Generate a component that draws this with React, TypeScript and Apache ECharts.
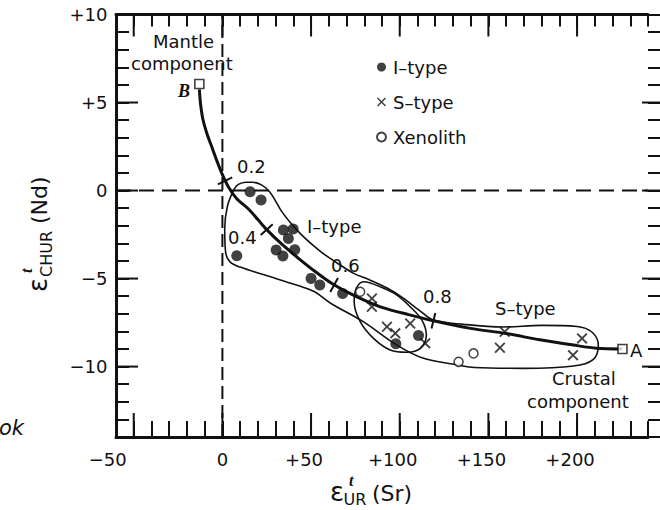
import React, { useEffect, useRef } from "react";
import * as echarts from "echarts";

const FONT = "'DejaVu Sans', sans-serif";
const SERIF = "'Liberation Serif', 'DejaVu Serif', serif";
const INK = "#111";

// axis tick labels
const xTickLabels = [-50, 0, 50, 100, 150, 200];
const yTickLabels = [-10, -5, 0, 5, 10];
const xMajorTicks = [-50, 0, 50, 100, 150, 200];
const yMajorTicks = [-10, -5, 0, 5];

// data: [eSr, eNd]
const iType: number[][] = [
  [15.6, -0.07], [21.8, -0.54], [8.1, -3.7], [34.4, -2.24], [39.9, -2.18],
  [37.2, -2.72], [30.3, -3.38], [34.1, -3.72], [40.8, -3.36], [50, -4.99],
  [54.9, -5.37], [67.8, -5.85], [110.6, -8.24], [97.8, -8.7],
];
const sType: number[][] = [
  [84.3, -6.13], [84.3, -6.6], [92.8, -7.74], [97.5, -8.11], [105.9, -7.55],
  [114.4, -8.68], [159.2, -8.02], [156.5, -8.93], [202.8, -8.4], [197.7, -9.35],
];
const xenolith: number[][] = [[77.7, -5.75], [133.2, -9.73], [141.6, -9.25]];
const mantleB: number[][] = [[-13, 6.05]];
const crustalA: number[][] = [[225.6, -9.0]];

// mixing hyperbola B -> A
const mixingCurve: number[][] = [
  [-13, 5.75], [-12.3, 4.9], [-11, 4.05], [-8.6, 3.2], [-5.5, 2.35], [-2.6, 1.55],
  [0, 0.9], [3.4, 0.2], [8, -0.45], [14.7, -1.05], [20, -1.65], [25, -2.22],
  [33.5, -3.05], [42.9, -3.85], [52.3, -4.6], [62, -5.3], [71, -5.8], [80.5, -6.25],
  [90.4, -6.65], [105, -7.05], [119, -7.4], [140, -7.83], [160, -8.12], [179, -8.48],
  [198, -8.78], [211, -8.96], [225.6, -9.0],
];
const mixFractions = ["0.2", "0.4", "0.6", "0.8"];
const mixTicks: number[][] = [[1.5, 0.55], [25, -2.22], [63, -5.36], [119, -7.4]];

// granite fields
const outerField: number[][] = [
  [13, 0.47], [17, 0.47], [22, 0.32], [26.5, -0.05], [30, -0.6], [33.5, -1.2],
  [39, -1.9], [44.8, -2.53], [51, -3.1], [57.9, -3.66], [66, -4.2], [73.8, -4.69],
  [83.4, -5.09], [92.9, -5.54], [102, -6.11], [111.6, -6.85], [119, -7.36], [136, -7.6],
  [158, -7.75], [180, -7.66], [200, -7.72], [208.5, -8.05], [212, -8.8], [209, -9.6],
  [198, -9.97], [170, -10.1], [142, -10.05], [133, -9.91], [113.4, -9.53], [98.4, -8.78],
  [79.4, -7.45], [61, -6.4], [52, -5.75], [42.7, -5.4], [24, -4.8], [10, -4.35],
  [4.3, -4.05], [1.8, -3.5], [1.3, -2.2], [2.8, -0.9], [6.5, 0.05], [9, 0.35], [13, 0.47],
];
const innerField: number[][] = [
  [89, -5.47], [98.4, -5.94], [105.9, -6.6], [112.5, -7.36], [115, -8.21], [111.6, -8.97],
  [104.1, -9.19], [94.6, -9.06], [85.2, -8.4], [77.7, -7.45], [74.3, -6.32], [75.5, -5.56],
  [79.6, -5.18], [89, -5.47],
];
const zeroVertical: number[][] = [[0, -14], [0, 10]];
const zeroHorizontal: number[][] = [[-60, 0], [240, 0]];

const CROSS = "path://M0,1.2L1.2,0L5,3.8L8.8,0L10,1.2L6.2,5L10,8.8L8.8,10L5,6.2L1.2,10L0,8.8L3.8,5Z";

function txt(text: string, left: number, baseline: number, size: number, extra: any = {}) {
  return {
    type: "text",
    x: left,
    y: baseline - 0.35 * size,
    silent: true,
    style: {
      text,
      fontSize: size,
      fontFamily: extra.fontFamily || FONT,
      fontStyle: extra.fontStyle || "normal",
      fontWeight: extra.fontWeight || "normal",
      fill: INK,
      align: extra.align || "left",
      textAlign: extra.align || "left",
      verticalAlign: "middle",
      textVerticalAlign: "middle",
      backgroundColor: extra.backgroundColor,
      padding: extra.padding,
    },
  };
}

export default function App() {
  const ref = useRef<HTMLDivElement>(null);
  useEffect(() => {
    if (!ref.current) return;
    const chart = echarts.init(ref.current, undefined, { renderer: "svg" });
    const tickStyle = { color: INK, width: 2 };
    const option: any = {
      animation: false,
      backgroundColor: "#fff",
      grid: { left: 116, right: 12, top: 14.5, bottom: 73, containLabel: false },
      legend: {
        left: 376,
        top: 58,
        orient: "vertical",
        padding: 0,
        itemGap: 17,
        itemWidth: 9,
        itemHeight: 9,
        selectedMode: false,
        data: ["I–type", "S–type", "Xenolith"],
        textStyle: { fontSize: 18, fontFamily: FONT, color: INK, padding: [0, 0, 0, 2] },
      },
      xAxis: [
        {
          type: "value", min: -60, max: 240, interval: 10, position: "bottom",
          splitLine: { show: false },
          axisLine: { show: true, onZero: false, lineStyle: { color: INK, width: 3 } },
          axisTick: { show: true, inside: true, length: 16, lineStyle: tickStyle },
          axisLabel: {
            show: true,
            customValues: xTickLabels,
            margin: 13,
            fontSize: 18,
            fontFamily: FONT,
            color: INK,
            formatter: (v: number) => (v > 0 ? `+${v}{s| }` : v < 0 ? `−${-v}{w| }` : `${v}`),
            rich: { s: { width: 14, fontSize: 18 }, w: { width: 52, fontSize: 18 } },
          },
        },
        {
          type: "value", min: -60, max: 240, interval: 10, position: "top",
          splitLine: { show: false },
          axisLine: { show: true, onZero: false, lineStyle: { color: INK, width: 3 } },
          axisTick: { show: true, inside: true, length: 12, lineStyle: tickStyle },
          axisLabel: { show: false },
        },
      ],
      yAxis: [
        {
          type: "value", min: -14, max: 10, interval: 1, position: "left",
          splitLine: { show: false },
          axisLine: { show: true, onZero: false, lineStyle: { color: INK, width: 3 } },
          axisTick: { show: true, inside: true, length: 13, lineStyle: tickStyle },
          axisLabel: {
            show: true,
            customValues: yTickLabels,
            margin: 8.5,
            fontSize: 18,
            fontFamily: FONT,
            color: INK,
            formatter: (v: number) => (v > 0 ? `+${v}` : v < 0 ? `−${-v}` : `${v}`),
          },
        },
        {
          type: "value", min: -14, max: 10, interval: 1, position: "right",
          splitLine: { show: false },
          axisLine: { show: false, onZero: false },
          axisTick: { show: true, inside: false, length: 12, lineStyle: tickStyle },
          axisLabel: { show: false },
        },
      ],
      series: [
        {
          name: "zeroV", type: "line", data: zeroVertical, symbol: "none", silent: true, z: 1,
          lineStyle: { color: INK, width: 2, type: [13, 6] },
        },
        {
          name: "zeroH", type: "line", data: zeroHorizontal, symbol: "none", silent: true, z: 1,
          lineStyle: { color: INK, width: 2, type: [15, 8] },
        },
        {
          name: "majorX", type: "custom", data: xMajorTicks.map((v) => [v, 0]), silent: true, z: 6, clip: false,
          renderItem: (params: any, api: any) => {
            const cs = params.coordSys;
            const px = api.coord([api.value(0), 0])[0];
            const bottom = cs.y + cs.height;
            const top = cs.y;
            return {
              type: "group",
              children: [
                { type: "line", shape: { x1: px, y1: bottom, x2: px, y2: bottom - 24 }, style: { stroke: INK, lineWidth: 2 } },
                { type: "line", shape: { x1: px, y1: top, x2: px, y2: top + 22 }, style: { stroke: INK, lineWidth: 2 } },
              ],
            };
          },
        },
        {
          name: "majorY", type: "custom", data: yMajorTicks.map((v) => [-60, v]), silent: true, z: 6, clip: false,
          renderItem: (params: any, api: any) => {
            const cs = params.coordSys;
            const py = api.coord([-60, api.value(1)])[1];
            const left = cs.x;
            const right = cs.x + cs.width;
            return {
              type: "group",
              children: [
                { type: "line", shape: { x1: left, y1: py, x2: left + 22, y2: py }, style: { stroke: INK, lineWidth: 2 } },
                { type: "line", shape: { x1: right - 6, y1: py, x2: right + 12, y2: py }, style: { stroke: INK, lineWidth: 2 } },
              ],
            };
          },
        },
        {
          name: "outer", type: "line", data: outerField, symbol: "none", smooth: 0.35, silent: true, z: 2,
          lineStyle: { color: INK, width: 1.6 },
        },
        {
          name: "inner", type: "line", data: innerField, symbol: "none", smooth: 0.35, silent: true, z: 2,
          lineStyle: { color: INK, width: 1.6 },
        },
        {
          name: "mixing", type: "line", data: mixingCurve, symbol: "none", smooth: 0.3, silent: true, z: 3,
          lineStyle: { color: INK, width: 3 },
        },
        {
          name: "mixTicks", type: "custom", data: mixTicks, silent: true, z: 4,
          renderItem: (_params: any, api: any) => {
            const x = api.value(0) as number;
            const y = api.value(1) as number;
            const p = api.coord([x, y]);
            let i = 0;
            while (i < mixingCurve.length - 2 && mixingCurve[i + 1][0] < x) i++;
            const a = api.coord(mixingCurve[i]);
            const b = api.coord(mixingCurve[i + 1]);
            let tx = b[0] - a[0];
            let ty = b[1] - a[1];
            const len = Math.hypot(tx, ty) || 1;
            tx /= len; ty /= len;
            const nx = -ty, ny = tx, L = 8;
            return {
              type: "line",
              shape: { x1: p[0] - nx * L, y1: p[1] - ny * L, x2: p[0] + nx * L, y2: p[1] + ny * L },
              style: { stroke: INK, lineWidth: 2 },
            };
          },
        },
        {
          name: "I–type", type: "scatter", data: iType, symbol: "circle", symbolSize: 11, z: 5,
          itemStyle: { color: INK },
        },
        {
          name: "S–type", type: "scatter", data: sType, symbol: CROSS, symbolSize: 11, z: 5,
          itemStyle: { color: INK },
        },
        {
          name: "Xenolith", type: "scatter", data: xenolith, symbol: "circle", symbolSize: 9, z: 5,
          itemStyle: { color: "#fff", borderColor: INK, borderWidth: 1.5 },
        },
        {
          name: "endB", type: "scatter", data: mantleB, symbol: "rect", symbolSize: 9, z: 5,
          itemStyle: { color: "#fff", borderColor: INK, borderWidth: 1.6 },
        },
        {
          name: "endA", type: "scatter", data: crustalA, symbol: "rect", symbolSize: 9, z: 5,
          itemStyle: { color: "#fff", borderColor: INK, borderWidth: 1.6 },
        },
      ],
      graphic: [
        txt("Mantle", 153, 48, 18),
        txt("component", 131, 70, 18),
        txt("B", 178, 97, 18, { fontFamily: SERIF, fontStyle: "italic", fontWeight: "bold" }),
        txt("I–type", 307, 233, 18),
        txt(mixFractions[0], 237, 173, 18),
        txt(mixFractions[1], 228, 244, 18),
        txt(mixFractions[2], 330, 272, 18, { backgroundColor: "#fff", padding: [0, 1, 0, 1] }),
        txt(mixFractions[3], 423, 303, 18),
        txt("S–type", 495, 315, 18),
        txt("Crustal", 552, 385, 18),
        txt("component", 527, 408, 18),
        txt("A", 630, 357, 18),
        txt("ok", -1, 435, 21, { fontStyle: "italic" }),
        // x-axis title
        txt("ε", 330, 501, 26),
        txt("t", 349, 486, 16, { fontFamily: SERIF, fontStyle: "italic", fontWeight: "bold" }),
        txt("UR", 343.5, 505, 16),
        txt("(Sr)", 372, 501, 22),
        // y-axis title
        {
          type: "group",
          x: 47,
          y: 292,
          rotation: Math.PI / 2,
          children: [
            txt("ε", 0, 0, 26),
            txt("t", 19, -15, 16, { fontFamily: SERIF, fontStyle: "italic", fontWeight: "bold" }),
            txt("CHUR", 15, 5, 16),
            txt("(Nd)", 68, 0, 22),
          ],
        },
      ],
    };
    chart.setOption(option);
    return () => chart.dispose();
  }, []);
  return (
    <div
      ref={ref}
      style={{ position: "fixed", left: 0, top: 0, width: 660, height: 510, background: "#fff" }}
    />
  );
}
